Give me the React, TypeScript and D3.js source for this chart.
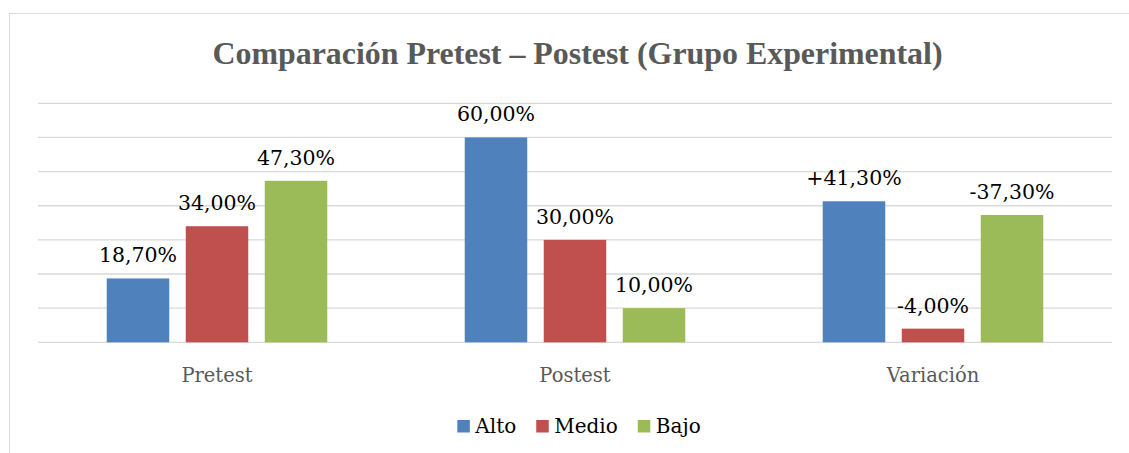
import React, { useEffect, useRef } from "react";
import * as d3 from "d3";

const categories = ["Pretest", "Postest", "Variación"];
const seriesNames = ["Alto", "Medio", "Bajo"];
const altoValues = [18.7, 60, 41.3];
const medioValues = [34, 30, 4];
const bajoValues = [47.3, 10, 37.3];
const altoLabels = ["18,70%", "60,00%", "+41,30%"];
const medioLabels = ["34,00%", "30,00%", "-4,00%"];
const bajoLabels = ["47,30%", "10,00%", "-37,30%"];
const gridTicks = [0, 10, 20, 30, 40, 50, 60, 70];
const colors = ["#4F81BD", "#C0504D", "#9BBB59"];

const W = 1129;
const H = 453;
const labelFont = "'DejaVu Serif', serif";

export default function App() {
  const ref = useRef<SVGSVGElement>(null);

  useEffect(() => {
    const svg = d3.select(ref.current);
    svg.selectAll("*").remove();

    // chart area border
    svg.append("rect")
      .attr("x", 9.5).attr("y", 13.5)
      .attr("width", W + 20).attr("height", H + 20)
      .attr("fill", "#fff").attr("stroke", "#d9d9d9").attr("stroke-width", 1);

    svg.append("text")
      .attr("x", 577.5).attr("y", 63.5)
      .attr("text-anchor", "middle")
      .attr("font-family", "'Liberation Serif', serif")
      .attr("font-weight", "bold")
      .attr("font-size", 31.9)
      .attr("fill", "#595959")
      .text("Comparación Pretest – Postest (Grupo Experimental)");

    const x0 = d3.scaleBand<string>()
      .domain(categories)
      .range([38, 1112])
      .paddingInner(0.384)
      .paddingOuter(0.192);

    const x1 = d3.scaleBand<string>()
      .domain(seriesNames)
      .range([0, x0.bandwidth()])
      .paddingInner(0.209);

    const y = d3.scaleLinear().domain([0, 70]).range([342.3, 103.3]);

    svg.append("g")
      .selectAll("line")
      .data(gridTicks)
      .enter().append("line")
      .attr("x1", 38).attr("x2", 1112)
      .attr("y1", d => y(d)).attr("y2", d => y(d))
      .attr("stroke", "#d9d9d9").attr("stroke-width", 1.3);

    const series = [
      { name: "Alto", values: altoValues, labels: altoLabels },
      { name: "Medio", values: medioValues, labels: medioLabels },
      { name: "Bajo", values: bajoValues, labels: bajoLabels },
    ];

    series.forEach((s, si) => {
      const g = svg.append("g").attr("fill", colors[si]);
      categories.forEach((c, ci) => {
        const bx = (x0(c) as number) + (x1(s.name) as number);
        g.append("rect")
          .attr("x", bx)
          .attr("y", y(s.values[ci]))
          .attr("width", x1.bandwidth())
          .attr("height", y(0) - y(s.values[ci]));
        svg.append("text")
          .attr("x", bx + x1.bandwidth() / 2)
          .attr("y", y(s.values[ci]) - 16)
          .attr("text-anchor", "middle")
          .attr("font-family", labelFont)
          .attr("font-size", 20.5)
          .attr("fill", "#000")
          .text(s.labels[ci]);
      });
    });

    svg.append("g")
      .selectAll("text")
      .data(categories)
      .enter().append("text")
      .attr("x", d => (x0(d) as number) + x0.bandwidth() / 2)
      .attr("y", 381.5)
      .attr("text-anchor", "middle")
      .attr("font-family", labelFont)
      .attr("font-size", 19.5)
      .attr("fill", "#595959")
      .text(d => d);

    // legend, measured then centered
    const legend = svg.append("g");
    let cx = 0;
    seriesNames.forEach((n, i) => {
      legend.append("rect")
        .attr("x", cx).attr("y", -12.5)
        .attr("width", 12.5).attr("height", 12.5)
        .attr("fill", colors[i]);
      const t = legend.append("text")
        .attr("x", cx + 18).attr("y", 0)
        .attr("font-family", labelFont)
        .attr("font-size", 20)
        .attr("fill", "#000")
        .text(n);
      const tw = (t.node() as SVGTextElement).getComputedTextLength();
      cx += 18 + tw + 20;
    });
    const total = cx - 20;
    legend.attr("transform", `translate(${579 - total / 2},432.5)`);
  }, []);

  return (
    <svg ref={ref} width={W} height={H}
      style={{ position: "absolute", left: 0, top: 0, background: "#fff" }} />
  );
}
